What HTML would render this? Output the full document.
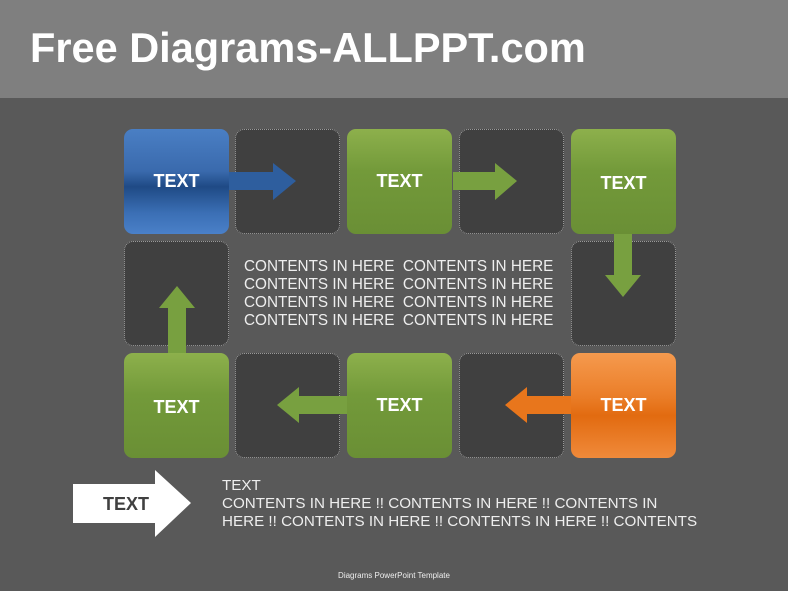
<html><head><style>
body{margin:0;width:788px;height:591px;background:#595959;position:relative;overflow:hidden;font-family:"Liberation Sans",sans-serif}
.hd{position:absolute;left:0;top:0;width:788px;height:98px;background:#7f7f7f}
.hd span{position:absolute;left:30px;top:24px;font-size:41.5px;font-weight:bold;color:#fff}
.c{position:absolute;width:105px;height:105px;border-radius:9px;box-sizing:border-box}
.d{background:#404040;border:1px dotted #999}
.t{color:#fff;font-weight:bold;font-size:18px;display:flex;align-items:center;justify-content:center}
.g{background:linear-gradient(#8db04c,#739a3a 40%,#6a8f35)}
.b{background:linear-gradient(#4a7fc4,#3a6aad 40%,#1f4a85 55%,#3b6fb5 80%,#4a80c8)}
.o{background:linear-gradient(#f59a4e,#eb7f2a 40%,#e26b10 60%,#f08a3a)}
.ct{position:absolute;left:244px;top:258px;color:#eee;font-size:15.3px;line-height:18px;white-space:pre}
</style></head><body>
<div class="hd"><span>Free Diagrams-ALLPPT.com</span></div>
<div class="c d" style="left:235px;top:129px"></div>
<div class="c d" style="left:459px;top:129px"></div>
<div class="c d" style="left:124px;top:241px"></div>
<div class="c d" style="left:571px;top:241px"></div>
<div class="c d" style="left:235px;top:353px"></div>
<div class="c d" style="left:459px;top:353px"></div>
<div class="c t b" style="left:124px;top:129px">TEXT</div>
<div class="c t g" style="left:347px;top:129px">TEXT</div>
<div class="c t g" style="left:571px;top:129px;padding-top:4px">TEXT</div>
<div class="c t g" style="left:124px;top:353px;padding-top:4px">TEXT</div>
<div class="c t g" style="left:347px;top:353px">TEXT</div>
<div class="c t o" style="left:571px;top:353px">TEXT</div>
<svg width="788" height="591" style="position:absolute;left:0;top:0">
<polygon points="229,172 273,172 273,163 296,181 273,200 273,190 229,190" fill="#2e5e9e"/>
<polygon points="453,172 495,172 495,163 517,181 495,200 495,190 453,190" fill="#78a040"/>
<polygon points="614,234 632,234 632,275 641,275 623,297 605,275 614,275" fill="#78a040"/>
<polygon points="168,353 186,353 186,308 195,308 177,286 159,308 168,308" fill="#78a040"/>
<polygon points="347,396 299,396 299,387 277,405 299,423 299,414 347,414" fill="#78a040"/>
<polygon points="571,396 527,396 527,387 505,405 527,423 527,414 571,414" fill="#e8761c"/>
<polygon points="73,484 155,484 155,470 191,503 155,537 155,523 73,523" fill="#fff"/>
<text x="126" y="510" font-size="18" font-weight="bold" fill="#404040" text-anchor="middle" font-family="Liberation Sans">TEXT</text>
</svg>
<div class="ct">CONTENTS IN HERE  CONTENTS IN HERE
CONTENTS IN HERE  CONTENTS IN HERE
CONTENTS IN HERE  CONTENTS IN HERE
CONTENTS IN HERE  CONTENTS IN HERE</div>
<div style="position:absolute;left:222px;top:477px;color:#eee;font-size:15.2px;line-height:18px;white-space:nowrap">TEXT<br>CONTENTS IN HERE !! CONTENTS IN HERE !! CONTENTS IN<br>HERE !! CONTENTS IN HERE !! CONTENTS IN HERE !! CONTENTS</div>
<div style="position:absolute;left:0;width:788px;top:571px;text-align:center;color:#eee;font-size:8px">Diagrams PowerPoint Template</div>
</body></html>
